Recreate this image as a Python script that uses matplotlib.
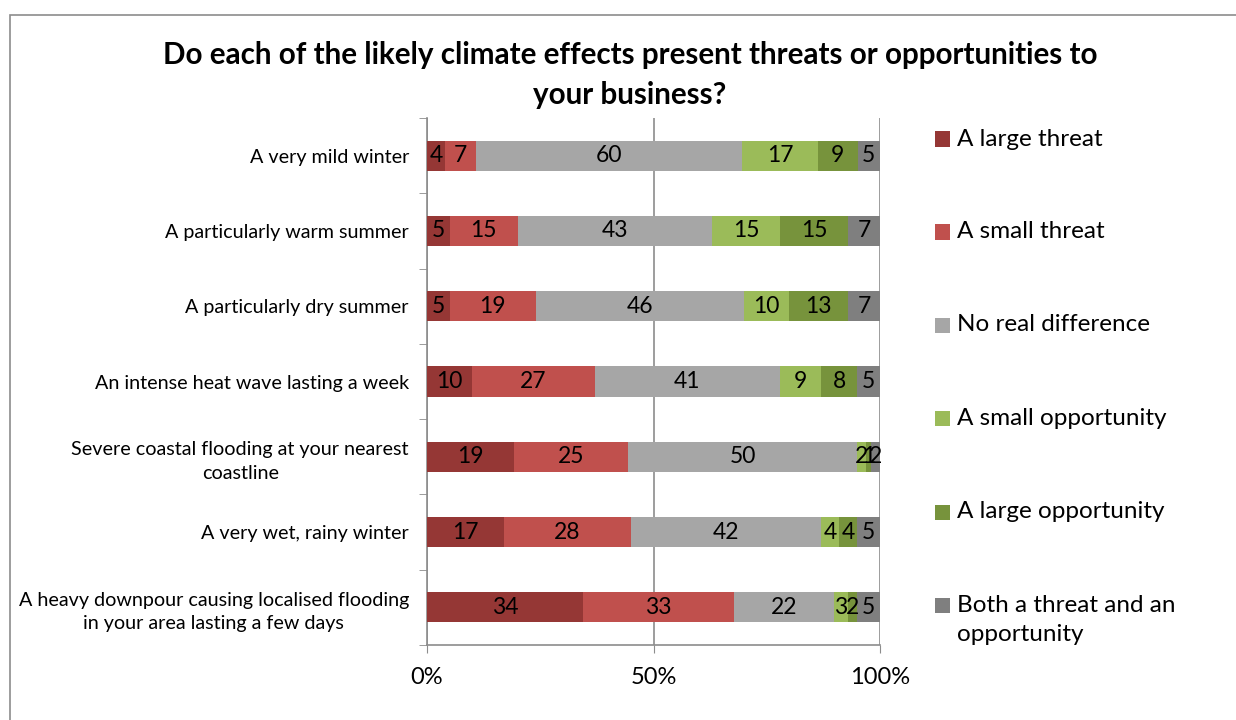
import matplotlib
matplotlib.use("Agg")
import matplotlib.pyplot as plt
from matplotlib.patches import Rectangle
import numpy as np

plt.rcParams['font.family'] = ['Lato', 'DejaVu Sans']

categories = [
    "A very mild winter",
    "A particularly warm summer",
    "A particularly dry summer",
    "An intense heat wave lasting a week",
    "Severe coastal flooding at your nearest\ncoastline",
    "A very wet, rainy winter",
    "A heavy downpour causing localised flooding\nin your area lasting a few days",
]
series_names = [
    "A large threat",
    "A small threat",
    "No real difference",
    "A small opportunity",
    "A large opportunity",
    "Both a threat and an\nopportunity",
]
large_threat = [4, 5, 5, 10, 19, 17, 34]
small_threat = [7, 15, 19, 27, 25, 28, 33]
no_difference = [60, 43, 46, 41, 50, 42, 22]
small_opportunity = [17, 15, 10, 9, 2, 4, 3]
large_opportunity = [9, 15, 13, 8, 1, 4, 2]
both = [5, 7, 7, 5, 2, 5, 5]
colors = ["#953735", "#C0504D", "#A6A6A6", "#9BBB59", "#77933C", "#7F7F7F"]
x_ticks = [0, 50, 100]
x_tick_labels = ["0%", "50%", "100%"]
title = "Do each of the likely climate effects present threats or opportunities to\nyour business?"

series = [large_threat, small_threat, no_difference, small_opportunity, large_opportunity, both]
data = np.array(series, dtype=float)
totals = data.sum(axis=0)
pct = data / totals * 100

fig = plt.figure(figsize=(12.36, 7.2), dpi=100)
# chart border
fig.patches.append(Rectangle((10 / 1236, -0.1), 1.2, 1 - 15 / 720 + 0.1, transform=fig.transFigure,
                             fill=False, edgecolor="#8C8C8C", linewidth=1.2))

ax = fig.add_axes([427 / 1236, 1 - 645 / 720, (880 - 427) / 1236, (645 - 118) / 720])
n = len(categories)
y = np.arange(n)
left = np.zeros(n)
for vals, raw, name, c in zip(pct, data, series_names, colors):
    ax.barh(y, vals, left=left, height=0.4, color=c, edgecolor="none", zorder=3)
    for yi, l, v, r in zip(y, left, vals, raw):
        if r > 0:
            ax.text(l + v / 2, yi, f"{int(r)}", ha="center", va="center", fontsize=16.5,
                    color="black", zorder=4)
    left += vals

ax.set_xlim(0, 100)
ax.set_ylim(n - 0.5, -0.5)
ax.set_xticks(x_ticks)
ax.set_xticklabels(x_tick_labels, fontsize=17)
ax.set_yticks(y)
ax.set_yticklabels(categories, fontsize=14.2, multialignment="center", linespacing=1.45)
ax.set_yticks(np.arange(n + 1) - 0.5, minor=True)
ax.tick_params(axis="y", which="major", length=0, pad=13)
ax.tick_params(axis="y", which="minor", length=6, color="#8C8C8C", direction="out")
ax.tick_params(axis="x", length=6, color="#8C8C8C", direction="out", pad=10)
ax.xaxis.grid(True, color="#8C8C8C", linewidth=1.2, zorder=0)
ax.spines["top"].set_visible(False)
ax.spines["right"].set_visible(False)
for s in ["left", "bottom"]:
    ax.spines[s].set_color("#8C8C8C")
    ax.spines[s].set_linewidth(1.2)

fig.text(630 / 1236, 1 - 75 / 720, title, ha="center", va="center", fontsize=21.3,
         fontweight="bold", linespacing=1.55)

# legend
leg_y = [139, 232, 325, 418, 512, 605]
line_h = 30
for name, c, ly in zip(series_names, colors, leg_y):
    fig.patches.append(Rectangle((935 / 1236, 1 - (ly + 7.5) / 720), 15 / 1236, 15 / 720,
                                 transform=fig.transFigure, facecolor=c, edgecolor="none"))
    nlines = name.count("\n") + 1
    cy = ly + (nlines - 1) * line_h / 2
    fig.text(957 / 1236, 1 - cy / 720, name, ha="left", va="center", fontsize=17.5,
             linespacing=1.45)

fig.savefig("out.png", dpi=100)
